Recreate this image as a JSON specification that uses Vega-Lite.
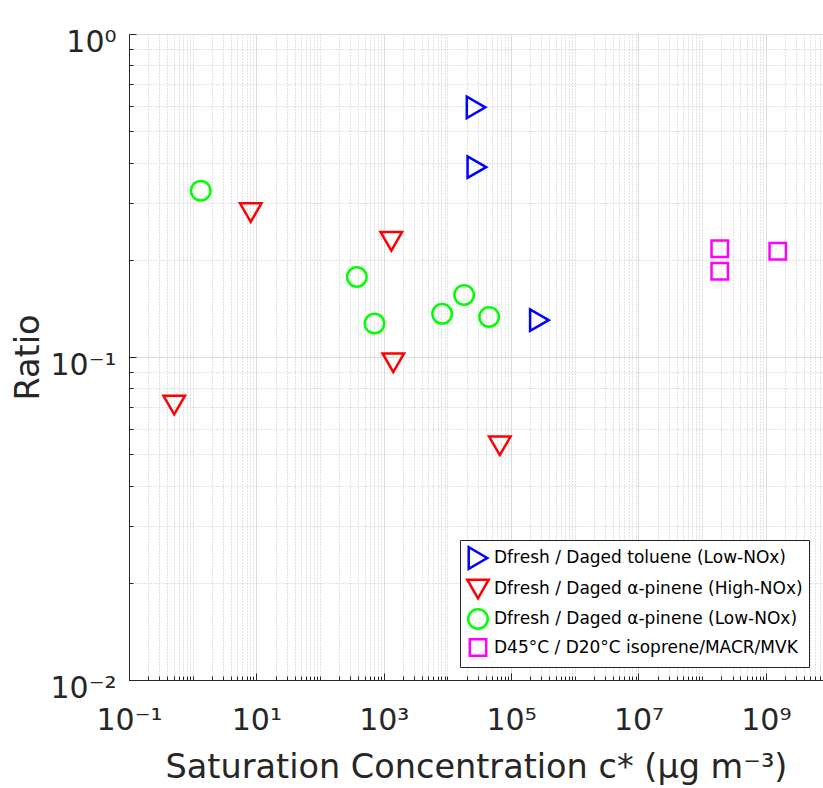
{
  "$schema": "https://vega.github.io/schema/vega-lite/v6.json",
  "autosize": {"type": "none"},
  "padding": {"left": 129, "top": 34, "right": 0, "bottom": 108},
  "width": 694,
  "height": 646,
  "background": "white",
  "config": {
    "font": "DejaVu Sans",
    "view": {"stroke": "#262626", "strokeWidth": 1}
  },
  "data": {
    "values": [
      {"c": 28200, "ratio": 0.593, "series": "Dfresh / Daged toluene (Low-NOx)"},
      {"c": 29000, "ratio": 0.387, "series": "Dfresh / Daged toluene (Low-NOx)"},
      {"c": 278000, "ratio": 0.130, "series": "Dfresh / Daged toluene (Low-NOx)"},
      {"c": 0.513, "ratio": 0.071, "series": "Dfresh / Daged α-pinene (High-NOx)"},
      {"c": 8.16, "ratio": 0.280, "series": "Dfresh / Daged α-pinene (High-NOx)"},
      {"c": 1315, "ratio": 0.228, "series": "Dfresh / Daged α-pinene (High-NOx)"},
      {"c": 1413, "ratio": 0.096, "series": "Dfresh / Daged α-pinene (High-NOx)"},
      {"c": 66500, "ratio": 0.0531, "series": "Dfresh / Daged α-pinene (High-NOx)"},
      {"c": 1.34, "ratio": 0.327, "series": "Dfresh / Daged α-pinene (Low-NOx)"},
      {"c": 378, "ratio": 0.177, "series": "Dfresh / Daged α-pinene (Low-NOx)"},
      {"c": 716, "ratio": 0.127, "series": "Dfresh / Daged α-pinene (Low-NOx)"},
      {"c": 8260, "ratio": 0.136, "series": "Dfresh / Daged α-pinene (Low-NOx)"},
      {"c": 18300, "ratio": 0.1555, "series": "Dfresh / Daged α-pinene (Low-NOx)"},
      {"c": 45200, "ratio": 0.133, "series": "Dfresh / Daged α-pinene (Low-NOx)"},
      {"c": 189000000, "ratio": 0.2164, "series": "D45°C / D20°C isoprene/MACR/MVK"},
      {"c": 189000000, "ratio": 0.1842, "series": "D45°C / D20°C isoprene/MACR/MVK"},
      {"c": 1540000000, "ratio": 0.2126, "series": "D45°C / D20°C isoprene/MACR/MVK"}
    ]
  },
  "mark": {"type": "point", "filled": false, "strokeWidth": 2.5, "opacity": 1},
  "encoding": {
    "x": {
      "field": "c",
      "type": "quantitative",
      "scale": {"type": "log", "domain": [0.1, 7900000000], "nice": false},
      "axis": {
        "title": "Saturation Concentration c* (μg m⁻³)",
        "titleFontSize": 33.5,
        "titleFontWeight": "normal",
        "titleColor": "#262626",
        "titlePadding": 13,
        "values": [0.1,0.2,0.3,0.4,0.5,0.6,0.7,0.8,0.9,1,2,3,4,5,6,7,8,9,10,20,30,40,50,60,70,80,90,100,200,300,400,500,600,700,800,900,1000,2000,3000,4000,5000,6000,7000,8000,9000,10000,20000,30000,40000,50000,60000,70000,80000,90000,100000,200000,300000,400000,500000,600000,700000,800000,900000,1000000,2000000,3000000,4000000,5000000,6000000,7000000,8000000,9000000,10000000,20000000,30000000,40000000,50000000,60000000,70000000,80000000,90000000,100000000,200000000,300000000,400000000,500000000,600000000,700000000,800000000,900000000,1000000000,2000000000,3000000000,4000000000,5000000000,6000000000,7000000000],
        "labelExpr": "datum.value == 0.1 ? '10⁻¹' : datum.value == 10 ? '10¹' : datum.value == 1000 ? '10³' : datum.value == 100000 ? '10⁵' : datum.value == 10000000 ? '10⁷' : datum.value == 1000000000 ? '10⁹' : ''",
        "labelFontSize": 30,
        "labelColor": "#262626",
        "labelOverlap": false,
        "labelFlush": false,
        "labelPadding": 32,
        "grid": true,
        "gridColor": {"condition": {"test": "indexof([0.1,10,1000,100000,10000000,1000000000], datum.value) >= 0", "value": "#dcdcdc"}, "value": "#c4c4c4"},
        "gridDash": {"condition": {"test": "indexof([0.1,10,1000,100000,10000000,1000000000], datum.value) >= 0", "value": []}, "value": [1, 2]},
        "tickSize": {"condition": {"test": "indexof([0.1,10,1000,100000,10000000,1000000000], datum.value) >= 0", "value": -7}, "value": -4},
        "tickColor": "#262626",
        "domainColor": "#262626"
      }
    },
    "y": {
      "field": "ratio",
      "type": "quantitative",
      "scale": {"type": "log", "domain": [0.01, 1], "nice": false},
      "axis": {
        "title": "Ratio",
        "titleFontSize": 33.5,
        "titleFontWeight": "normal",
        "titleColor": "#262626",
        "titlePadding": 4,
        "values": [0.01,0.02,0.03,0.04,0.05,0.06,0.07,0.08,0.09,0.1,0.2,0.3,0.4,0.5,0.6,0.7,0.8,0.9,1],
        "labelExpr": "datum.value == 1 ? '10⁰' : datum.value == 0.1 ? '10⁻¹' : datum.value == 0.01 ? '10⁻²' : ''",
        "labelFontSize": 30,
        "labelColor": "#262626",
        "labelOverlap": false,
        "labelFlush": false,
        "labelPadding": 20,
        "labelOffset": 8,
        "grid": true,
        "gridColor": {"condition": {"test": "indexof([0.01,0.1,1], datum.value) >= 0", "value": "#dcdcdc"}, "value": "#c4c4c4"},
        "gridDash": {"condition": {"test": "indexof([0.01,0.1,1], datum.value) >= 0", "value": []}, "value": [1, 2]},
        "tickSize": {"condition": {"test": "indexof([0.01,0.1,1], datum.value) >= 0", "value": -7}, "value": -4},
        "tickColor": "#262626",
        "domainColor": "#262626"
      }
    },
    "color": {
      "field": "series",
      "type": "nominal",
      "scale": {
        "domain": ["Dfresh / Daged toluene (Low-NOx)", "Dfresh / Daged α-pinene (High-NOx)", "Dfresh / Daged α-pinene (Low-NOx)", "D45°C / D20°C isoprene/MACR/MVK"],
        "range": ["#0000ff", "#ff0000", "#00ff00", "#ff00ff"]
      },
      "legend": {
        "title": null,
        "orient": "none",
        "legendX": 331,
        "legendY": 506,
        "strokeColor": "#262626",
        "fillColor": "white",
        "padding": 6,
        "labelFontSize": 17,
        "labelColor": "#000000",
        "labelLimit": 0,
        "symbolSize": 380,
        "symbolStrokeWidth": 2.5,
        "rowPadding": 0,
        "cornerRadius": 0
      }
    },
    "shape": {
      "field": "series",
      "type": "nominal",
      "scale": {
        "domain": ["Dfresh / Daged toluene (Low-NOx)", "Dfresh / Daged α-pinene (High-NOx)", "Dfresh / Daged α-pinene (Low-NOx)", "D45°C / D20°C isoprene/MACR/MVK"],
        "range": ["triangle-right", "triangle-down", "circle", "square"]
      }
    },
    "size": {
      "field": "series",
      "type": "nominal",
      "scale": {
        "type": "ordinal",
        "domain": ["Dfresh / Daged toluene (Low-NOx)", "Dfresh / Daged α-pinene (High-NOx)", "Dfresh / Daged α-pinene (Low-NOx)", "D45°C / D20°C isoprene/MACR/MVK"],
        "range": [460, 460, 380, 270]
      },
      "legend": null
    }
  }
}
